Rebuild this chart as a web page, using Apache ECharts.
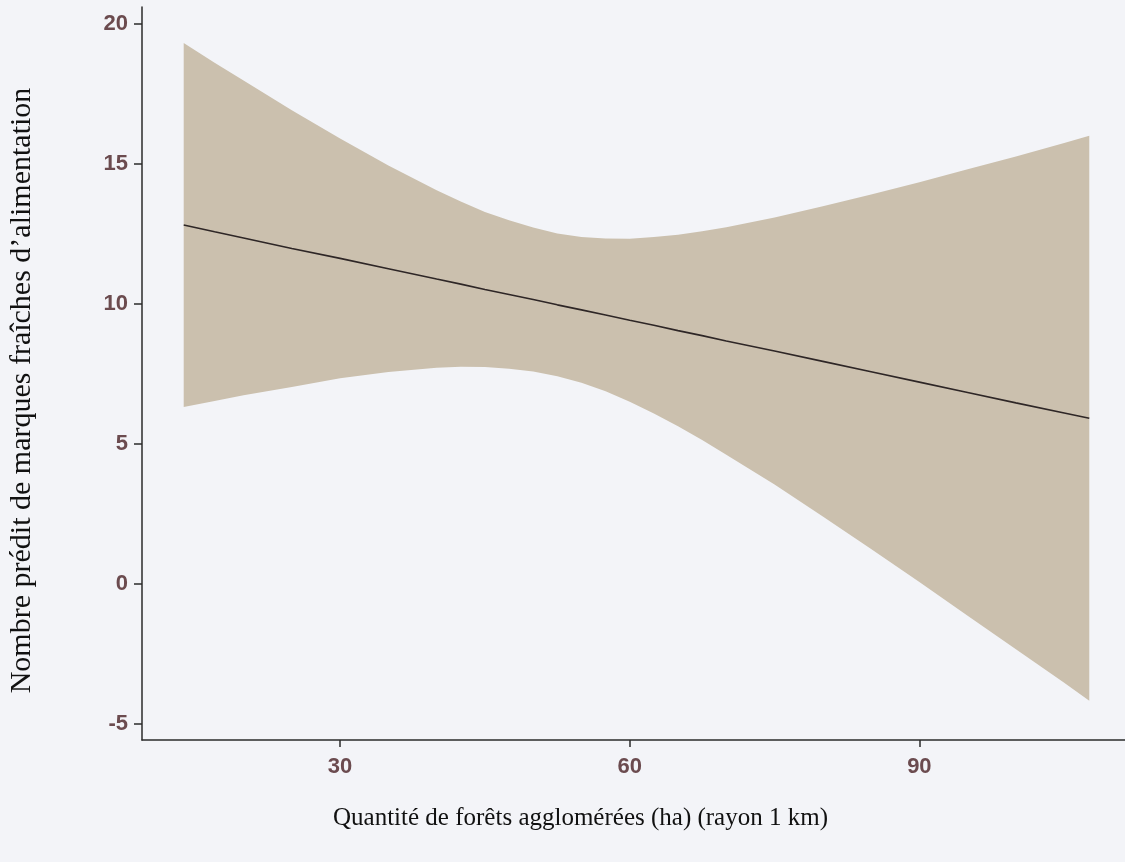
<!DOCTYPE html>
<html>
<head>
<meta charset="utf-8">
<script src="https://cdn.jsdelivr.net/npm/echarts@6/dist/echarts.min.js"></script>
<style>
  html, body { margin: 0; padding: 0; background: #f3f4f8; }
  #chart { width: 1125px; height: 862px; }
</style>
</head>
<body>
<div id="chart"></div>
<script>
// Forest area (ha, 1 km radius) where predictions are evaluated
const forestArea = [13.8, 17, 20, 25, 30, 35, 40, 42.5, 45, 47.5, 50, 52.5, 55, 57.5, 60, 62.5, 65, 67.5, 70, 75, 80, 85, 90, 95, 100, 105, 107.6];
// Predicted number of fresh food brands (fitted line)
const predicted  = [12.82, 12.58, 12.36, 11.98, 11.63, 11.26, 10.89, 10.71, 10.52, 10.34, 10.16, 9.97, 9.79, 9.61, 9.42, 9.24, 9.05, 8.87, 8.68, 8.32, 7.95, 7.58, 7.21, 6.84, 6.47, 6.11, 5.92];
// Confidence band limits
const lowerCI    = [6.32, 6.54, 6.74, 7.04, 7.35, 7.57, 7.72, 7.76, 7.75, 7.69, 7.59, 7.42, 7.19, 6.88, 6.51, 6.09, 5.63, 5.14, 4.62, 3.55, 2.41, 1.25, 0.07, -1.13, -2.33, -3.53, -4.17];
const upperCI    = [19.32, 18.62, 17.98, 16.92, 15.91, 14.95, 14.06, 13.66, 13.29, 12.99, 12.73, 12.52, 12.39, 12.34, 12.33, 12.39, 12.47, 12.60, 12.74, 13.09, 13.49, 13.91, 14.35, 14.81, 15.27, 15.75, 16.01];
// Axis tick labels
const xTicks = [30, 60, 90];
const yTicks = [-5, 0, 5, 10, 15, 20];

const xName = 'Quantité de forêts agglomérées (ha) (rayon 1 km)';
const yName = 'Nombre prédit de marques fraîches d’alimentation';

const lineData = forestArea.map((x, i) => [x, predicted[i]]);

const labelColor = '#6b4b4f';
const axisColor = '#2b2b2b';

// Confidence band drawn as one polygon: upper limit left to right, then lower limit back
function renderBand(params, api) {
  const pts = [];
  for (let i = 0; i < forestArea.length; i++) {
    pts.push(api.coord([forestArea[i], upperCI[i]]));
  }
  for (let i = forestArea.length - 1; i >= 0; i--) {
    pts.push(api.coord([forestArea[i], lowerCI[i]]));
  }
  return {
    type: 'polygon',
    shape: { points: pts, smooth: 0 },
    style: { fill: '#cbc0ae', stroke: null }
  };
}

const chart = echarts.init(document.getElementById('chart'), null, { renderer: 'canvas' });
chart.setOption({
  backgroundColor: '#f3f4f8',
  animation: false,
  grid: { left: 142, right: 0, top: 7, bottom: 122, containLabel: false, outerBoundsMode: 'none' },
  xAxis: {
    type: 'value',
    min: 9.48,
    max: 111.3,
    name: xName,
    nameLocation: 'middle',
    nameGap: 66,
    nameTextStyle: { fontFamily: 'Liberation Serif', fontSize: 25, color: '#111', padding: [0, 106, 0, 0] },
    axisLine: { show: true, onZero: false, lineStyle: { color: axisColor, width: 1.5 } },
    axisTick: { show: true, customValues: xTicks, length: 7, lineStyle: { color: axisColor, width: 1.5 } },
    axisLabel: { customValues: xTicks, margin: 16, color: labelColor, fontFamily: 'Liberation Sans', fontSize: 22, fontWeight: 'bold' },
    splitLine: { show: false }
  },
  yAxis: {
    type: 'value',
    min: -5.571,
    max: 20.607,
    name: yName,
    nameLocation: 'middle',
    nameGap: 105,
    nameRotate: 90,
    nameTextStyle: { fontFamily: 'Liberation Serif', fontSize: 30, color: '#111', padding: [0, 34, 0, 0] },
    axisLine: { show: true, onZero: false, lineStyle: { color: axisColor, width: 1.5 } },
    axisTick: { show: true, customValues: yTicks, length: 8, lineStyle: { color: axisColor, width: 1.5 } },
    axisLabel: { customValues: yTicks, margin: 14, color: labelColor, fontFamily: 'Liberation Sans', fontSize: 22, fontWeight: 'bold' },
    splitLine: { show: false }
  },
  series: [
    {
      name: 'band',
      type: 'custom',
      renderItem: renderBand,
      data: [0],
      silent: true,
      z: 1
    },
    {
      name: 'fit',
      type: 'line',
      data: lineData,
      symbol: 'none',
      lineStyle: { color: '#2e2626', width: 1.6 },
      z: 5
    }
  ]
});
</script>
</body>
</html>
